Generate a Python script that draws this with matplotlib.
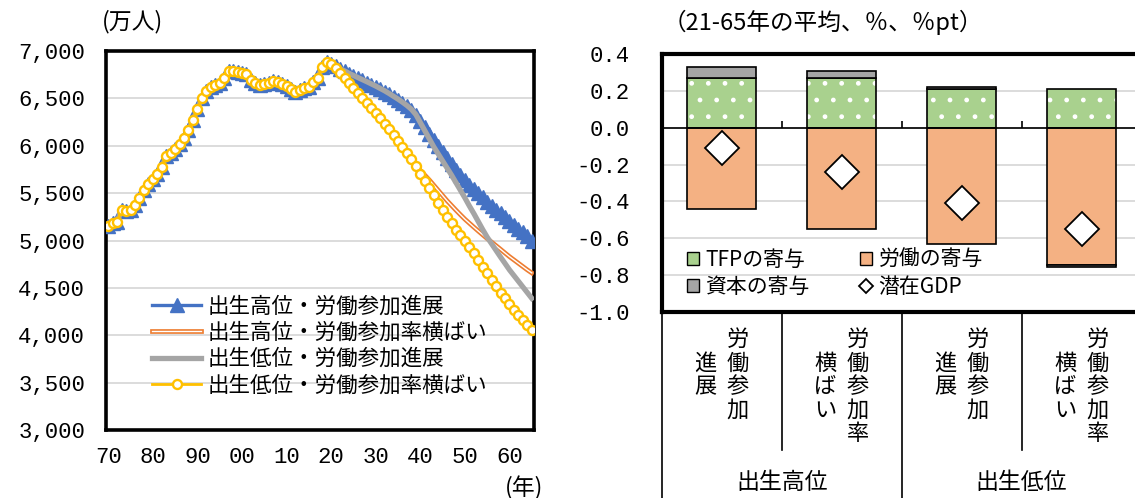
"""
Labour force projection and potential growth contributions (two panels).
"""

import matplotlib
matplotlib.use("Agg")
import matplotlib.pyplot as plt
import matplotlib.patheffects as pe
from matplotlib.lines import Line2D
from matplotlib.patches import Patch
from matplotlib.transforms import blended_transform_factory

plt.rcParams["font.family"] = ["Noto Sans CJK JP", "DejaVu Sans"]
NUM_FONT = ["Liberation Mono", "DejaVu Sans"]

BLUE = "#4472C4"
ORANGE = "#ED7D31"
GRAY = "#A5A5A5"
YELLOW = "#FFC000"
GREEN = "#A9D18E"
ORANGE_BAR = "#F4B183"

# ---- left panel: labour force (万人) ----
years = list(range(1970, 2066))

# 1970-2020, common to all four scenarios
actual = [5153, 5186, 5199, 5326, 5310, 5323, 5378, 5452, 5532, 5596,
          5650, 5707, 5774, 5889, 5927, 5963, 6020, 6084, 6166, 6270,
          6384, 6505, 6578, 6615, 6645, 6666, 6711, 6787, 6793, 6779,
          6766, 6752, 6689, 6666, 6642, 6651, 6664, 6684, 6674, 6650,
          6632, 6596, 6565, 6593, 6609, 6625, 6673, 6720, 6830, 6886,
          6868]

# 2021-2065
high_progress = [6838, 6812, 6786, 6760, 6736, 6713, 6690, 6667, 6644, 6620,
                 6595, 6570, 6542, 6512, 6482, 6450, 6415, 6375, 6325, 6265,
                 6195, 6128, 6063, 6000, 5935, 5870, 5808, 5748, 5690, 5635,
                 5590, 5545, 5500, 5455, 5410, 5368, 5326, 5285, 5245, 5205,
                 5165, 5125, 5085, 5045, 5000]
high_flat = [6817, 6766, 6713, 6660, 6607, 6554, 6501, 6448, 6395, 6342,
             6288, 6234, 6176, 6115, 6055, 5990, 5925, 5862, 5800, 5740,
             5690, 5640, 5585, 5530, 5475, 5420, 5370, 5320, 5272, 5225,
             5183, 5141, 5100, 5060, 5020, 4983, 4945, 4907, 4868, 4830,
             4795, 4760, 4725, 4690, 4658]
low_progress = [6840, 6815, 6790, 6765, 6742, 6720, 6698, 6676, 6653, 6630,
                6605, 6580, 6552, 6522, 6492, 6460, 6425, 6385, 6330, 6245,
                6160, 6075, 5990, 5915, 5840, 5765, 5690, 5610, 5530, 5450,
                5365, 5285, 5200, 5115, 5035, 4965, 4895, 4825, 4758, 4690,
                4630, 4570, 4510, 4450, 4390]
low_flat = [6817, 6766, 6713, 6660, 6607, 6554, 6501, 6448, 6395, 6342,
            6288, 6234, 6176, 6115, 6055, 5990, 5925, 5860, 5785, 5705,
            5630, 5553, 5476, 5400, 5325, 5252, 5182, 5115, 5055, 4995,
            4930, 4865, 4795, 4725, 4655, 4585, 4515, 4450, 4390, 4330,
            4270, 4215, 4160, 4105, 4055]

series_labels = ["出生高位・労働参加進展", "出生高位・労働参加率横ばい",
                 "出生低位・労働参加進展", "出生低位・労働参加率横ばい"]

year_ticks = [1970, 1980, 1990, 2000, 2010, 2020, 2030, 2040, 2050, 2060]
year_tick_labels = ["70", "80", "90", "00", "10", "20", "30", "40", "50", "60"]
labour_ticks = [3000, 3500, 4000, 4500, 5000, 5500, 6000, 6500, 7000]
labour_tick_labels = ["3,000", "3,500", "4,000", "4,500", "5,000",
                      "5,500", "6,000", "6,500", "7,000"]

# ---- right panel: contributions to potential growth, 21-65 average ----
case_columns = [("労働参加", "進展"), ("労働参加率", "横ばい"),
                ("労働参加", "進展"), ("労働参加率", "横ばい")]
groups = ["出生高位", "出生低位"]
tfp = [0.27, 0.27, 0.21, 0.21]
capital = [0.06, 0.04, 0.01, -0.01]
labour = [-0.44, -0.55, -0.63, -0.745]
potential_gdp = [-0.11, -0.24, -0.41, -0.55]
contrib_labels = ["TFPの寄与", "資本の寄与", "労働の寄与", "潜在GDP"]
contrib_ticks = [-1.0, -0.8, -0.6, -0.4, -0.2, 0.0, 0.2, 0.4]
contrib_tick_labels = ["-1.0", "-0.8", "-0.6", "-0.4", "-0.2", "0.0", "0.2", "0.4"]


fig = plt.figure(figsize=(11.35, 4.98), dpi=100)
W, H = 1135, 498

# ---------------- left panel ----------------
ax1 = fig.add_axes([106 / W, 1 - 430 / H, 428 / W, 379 / H])
ax1.plot(years, actual + high_progress, color=BLUE, lw=2.4, marker="^",
         ms=9.5, mec=BLUE, zorder=3, label=series_labels[0])
ax1.plot(years, actual + high_flat, color="white", lw=1.0, zorder=4,
         path_effects=[pe.Stroke(linewidth=3.4, foreground=ORANGE), pe.Normal()],
         label=series_labels[1])
ax1.plot(years, actual + low_progress, color=GRAY, lw=3.8, zorder=5,
         label=series_labels[2])
ax1.plot(years, actual + low_flat, color=YELLOW, lw=2.0, marker="o", ms=6.5,
         mfc="white", mec=YELLOW, mew=1.7, zorder=6, label=series_labels[3])

ax1.set_xlim(1969.5, 2065.5)
ax1.set_ylim(3000, 7000)
ax1.set_xticks(year_ticks, year_tick_labels)
ax1.set_yticks(labour_ticks, labour_tick_labels)
ax1.tick_params(length=0, labelsize=16, labelfontfamily=NUM_FONT)
ax1.tick_params(axis="y", pad=15)
ax1.tick_params(axis="x", pad=12)
ax1.grid(axis="y", color="#D9D9D9", lw=1.3)
ax1.set_axisbelow(True)
for s in ax1.spines.values():
    s.set_linewidth(2.6)

ax1.legend(loc="upper left", bbox_to_anchor=(0.107, 0.355), frameon=False,
           fontsize=15.5, handlelength=2.3, handletextpad=0.3,
           labelspacing=0.2, borderpad=0, borderaxespad=0)

fig.text(102 / W, 1 - 22 / H, "(万人)", fontsize=16.5, va="center", ha="left")
fig.text(524 / W, 1 - 488 / H, "(年)", fontsize=16.5, va="center", ha="center")

# ---------------- right panel ----------------
ax2 = fig.add_axes([661.7 / W, 1 - 312 / H, 479.8 / W, 258 / H])
x = list(range(len(tfp)))
bw = 0.57
ax2.bar(x, tfp, width=bw, color=GREEN, edgecolor="white", hatch=".",
        lw=0, zorder=2)
ax2.bar(x, tfp, width=bw, fill=False, edgecolor="black", lw=1.2, zorder=3)
ax2.bar(x, labour, width=bw, color=ORANGE_BAR, edgecolor="black", lw=1.2,
        zorder=3)
cap_bottom = [t if c >= 0 else l for t, c, l in zip(tfp, capital, labour)]
ax2.bar(x, capital, bottom=cap_bottom, width=bw, color=GRAY,
        edgecolor="black", lw=1.2, zorder=3)
ax2.plot(x, potential_gdp, ls="none", marker="D", ms=17.5, mfc="white",
         mec="black", mew=1.3, zorder=6)

ax2.axhline(0, color="black", lw=1.2, zorder=4)
ax2.vlines([i + 0.5 for i in x[:-1]], 0, 0.036, color="black", lw=1.2,
           zorder=4)

ax2.set_xlim(-0.5, len(x) - 0.5)
ax2.set_ylim(-1.0, 0.4)
ax2.set_xticks([])
ax2.set_yticks(contrib_ticks, contrib_tick_labels)
ax2.tick_params(length=0, labelsize=16, labelfontfamily=NUM_FONT)
ax2.tick_params(axis="y", pad=23)
ax2.grid(axis="y", color="#D9D9D9", lw=1.3)
ax2.set_axisbelow(True)
for s in ax2.spines.values():
    s.set_linewidth(3)

handles = [Patch(facecolor=GREEN, edgecolor="black", lw=1),
           Patch(facecolor=GRAY, edgecolor="black", lw=1),
           Patch(facecolor=ORANGE_BAR, edgecolor="black", lw=1),
           Line2D([], [], ls="none", marker="D", ms=7, mfc="white",
                  mec="black", mew=1.3)]
ax2.legend(handles, contrib_labels, ncol=2, loc="upper left",
           bbox_to_anchor=(0.052, 0.245), frameon=False, fontsize=15,
           handlelength=0.6, handleheight=0.6, handletextpad=0.3,
           columnspacing=2.4, labelspacing=0.25, borderpad=0,
           borderaxespad=0)

fig.text(663 / W, 1 - 22 / H, "（21-65年の平均、％、％pt）", fontsize=17,
         va="center", ha="left")

# vertical category labels under the bars
trans = blended_transform_factory(ax2.transData, fig.transFigure)
pitch = 23.4 / H
top = 1 - 328 / H
for i, (right_col, left_col) in enumerate(case_columns):
    for k, ch in enumerate(right_col):
        ax2.text(i + 0.135, top - (k + 0.5) * pitch, ch, transform=trans,
                 ha="center", va="center", fontsize=16, clip_on=False)
    mid = top - len(right_col) * pitch / 2
    for k, ch in enumerate(left_col):
        ax2.text(i - 0.135, mid - (k - (len(left_col) - 1) / 2) * pitch, ch,
                 transform=trans, ha="center", va="center", fontsize=16,
                 clip_on=False)

for g, name in enumerate(groups):
    ax2.text(2 * g + 0.5, 1 - 482 / H, name, transform=trans, ha="center",
             va="center", fontsize=16.5, clip_on=False)

for i in x:
    y_end = 0.0 if i % 2 == 0 else 1 - 450 / H
    ax2.add_line(Line2D([i - 0.5, i - 0.5], [1 - 312 / H, y_end],
                        transform=trans, color="black", lw=1.2,
                        clip_on=False))

fig.savefig("out.png", dpi=100)
